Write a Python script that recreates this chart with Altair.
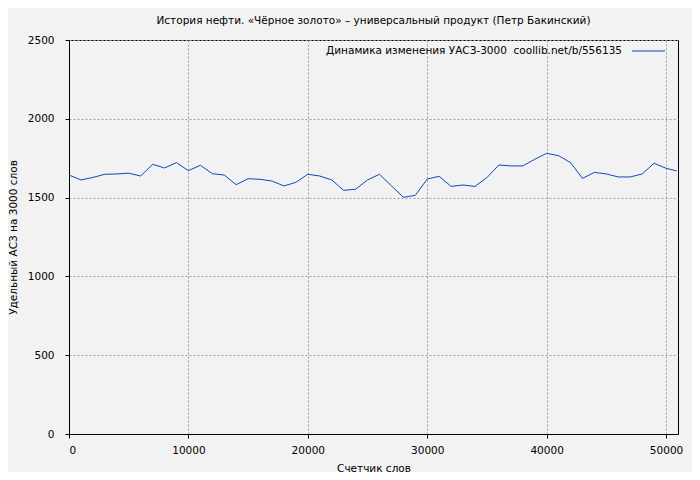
import altair as alt
import pandas as pd

words = [0, 1000, 2000, 3000, 4000, 5000, 6000, 7000, 8000, 9000,
         10000, 11000, 12000, 13000, 14000, 15000, 16000, 17000, 18000, 19000,
         20000, 21000, 22000, 23000, 24000, 25000, 26000, 27000, 28000, 29000,
         30000, 31000, 32000, 33000, 34000, 35000, 36000, 37000, 38000, 39000,
         40000, 41000, 42000, 43000, 44000, 45000, 46000, 47000, 48000, 49000,
         50000, 50900]
values = [1643, 1612, 1628, 1648, 1650, 1655, 1637, 1711, 1688, 1722,
          1671, 1705, 1652, 1643, 1582, 1620, 1616, 1605, 1574, 1597,
          1648, 1637, 1612, 1546, 1553, 1612, 1648, 1575, 1502, 1514,
          1618, 1635, 1571, 1580, 1571, 1627, 1707, 1701, 1701, 1743,
          1781, 1766, 1722, 1622, 1660, 1650, 1631, 1631, 1650, 1718,
          1686, 1669]

title_text = "История нефти. «Чёрное золото» – универсальный продукт (Петр Бакинский)"
legend_text = "Динамика изменения УАСЗ-3000\u00a0 coollib.net/b/556135"
x_title = "Счетчик слов"
y_title = "Удельный АСЗ на 3000 слов"
x_ticks = [0, 10000, 20000, 30000, 40000, 50000]
y_ticks = [0, 500, 1000, 1500, 2000, 2500]

df = pd.DataFrame({"words": words, "value": values})
FONT = "DejaVu Sans"
FS = 10.5
LINE_COLOR = "#0b4bb5"

line = alt.Chart(df).mark_line(color=LINE_COLOR, strokeWidth=1).encode(
    x=alt.X("words:Q", title=x_title,
            scale=alt.Scale(domain=[0, 51000], nice=False, zero=False),
            axis=alt.Axis(values=x_ticks, format="d", grid=True,
                          titleY=37, titleBaseline="alphabetic")),
    y=alt.Y("value:Q", title=y_title,
            scale=alt.Scale(domain=[0, 2500], nice=False),
            axis=alt.Axis(values=y_ticks, format="d", grid=True,
                          titleX=-53, titleBaseline="alphabetic")),
)

legend_label = alt.Chart(pd.DataFrame({"t": [legend_text]})).mark_text(
    align="right", baseline="middle", font=FONT, fontSize=FS, color="#000000"
).encode(text="t:N", x=alt.value(553), y=alt.value(11))

legend_line = alt.Chart(pd.DataFrame({"a": [0]})).mark_rule(
    color=LINE_COLOR, strokeWidth=1
).encode(x=alt.value(563), x2=alt.value(596), y=alt.value(11))

chart = alt.layer(line, legend_label, legend_line).properties(
    width=609,
    height=394,
    title=alt.TitleParams(title_text, anchor="middle", font=FONT, fontSize=FS,
                          fontWeight="normal", color="#000000", offset=9),
    background="#f2f2f2",
    padding={"left": 61, "top": 32, "right": 14, "bottom": 38},
    autosize=alt.AutoSizeParams(type="none"),
).configure_view(
    stroke="#000000", strokeWidth=1, fill="#f2f2f2"
).configure_axis(
    domainColor="#000000", domainWidth=1,
    tickColor="#000000", tickSize=4, tickWidth=1,
    gridColor="#a0a0a0", gridDash=[2, 2], gridWidth=1,
    labelFont=FONT, labelFontSize=FS, labelColor="#000000",
    titleFont=FONT, titleFontSize=FS, titleFontWeight="normal", titleColor="#000000",
).configure_axisY(
    labelPadding=11,
).configure_axisX(
    labelPadding=7,
)

chart.save("out.html", embed_options={"renderer": "svg", "actions": False})
